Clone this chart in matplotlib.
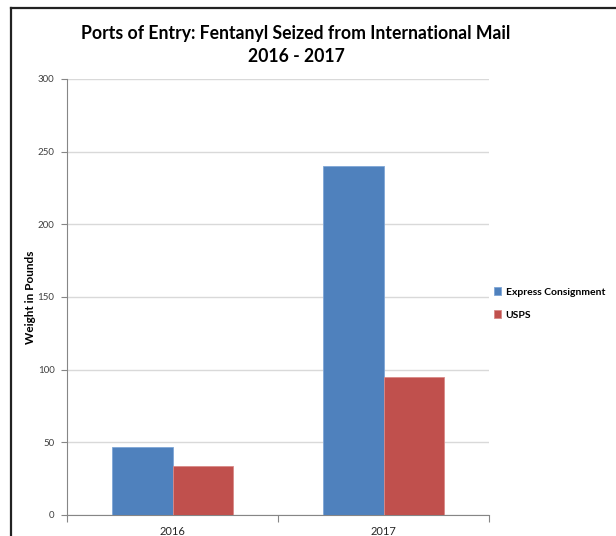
import numpy as np
import matplotlib
matplotlib.use('Agg')
from matplotlib import pyplot as plt
from matplotlib.lines import Line2D

years = ['2016', '2017']
express = [47, 240]
usps = [34, 95]
series_names = ['Express Consignment', 'USPS']
yticks = [0, 50, 100, 150, 200, 250, 300]

blue = '#4F81BD'
red = '#C0504D'
axis_gray = '#868686'
grid_gray = '#D9D9D9'

plt.rcParams['font.family'] = ['Lato', 'DejaVu Sans']

fig = plt.figure(figsize=(6.16, 5.36), dpi=100)
ax = fig.add_axes([67/616, 21/536, 422/616, 436/536])

x = np.arange(len(years))
w = 0.285
ax.bar(x - w/2, express, w, color=blue, edgecolor='#7FA6D6', linewidth=0.6, label=series_names[0], zorder=3)
ax.bar(x + w/2, usps, w, color=red, edgecolor='#D98A88', linewidth=0.6, label=series_names[1], zorder=3)

ax.set_xlim(-0.5, 1.5)
ax.set_ylim(0, 300)
ax.set_yticks(yticks)
ax.set_yticklabels([str(t) for t in yticks], fontsize=7, color='#404040')
ax.yaxis.grid(True, color=grid_gray, linewidth=1, zorder=0)
ax.set_axisbelow(True)

# category boundaries as ticks, labels in the middle
ax.set_xticks([-0.5, 0.5, 1.5])
ax.set_xticklabels(['', '', ''])
ax.set_xticks(x, minor=True)
ax.set_xticklabels(years, minor=True, fontsize=8, color='#262626')
ax.tick_params(axis='x', which='major', length=5, color=axis_gray)
ax.tick_params(axis='x', which='minor', length=0, pad=8)
ax.tick_params(axis='y', length=4, color=axis_gray, pad=5)

for s in ['top', 'right']:
    ax.spines[s].set_visible(False)
for s in ['left', 'bottom']:
    ax.spines[s].set_color(axis_gray)
    ax.spines[s].set_linewidth(0.8)

ax.set_ylabel('Weight in Pounds', fontsize=8.5, fontweight='bold', labelpad=1)

fig.text(296/616, 1 - 45/536, 'Ports of Entry: Fentanyl Seized from International Mail\n2016 - 2017',
         ha='center', va='center', fontsize=12.7, fontweight='bold', linespacing=1.5)

leg = ax.legend(loc='center left', bbox_to_anchor=(0.99, 0.485), frameon=False,
                fontsize=7.5, handlelength=0.7, handleheight=0.7, handletextpad=0.4,
                labelspacing=1.3)
for t in leg.get_texts():
    t.set_fontweight('bold')

# outer frame
fig.add_artist(Line2D([11/616, 11/616], [0, 1 - 8/536], transform=fig.transFigure, color='#222222', linewidth=1.6))
fig.add_artist(Line2D([11/616, 1], [1 - 8/536, 1 - 8/536], transform=fig.transFigure, color='#222222', linewidth=1.6))

fig.savefig('out.png', dpi=100)
